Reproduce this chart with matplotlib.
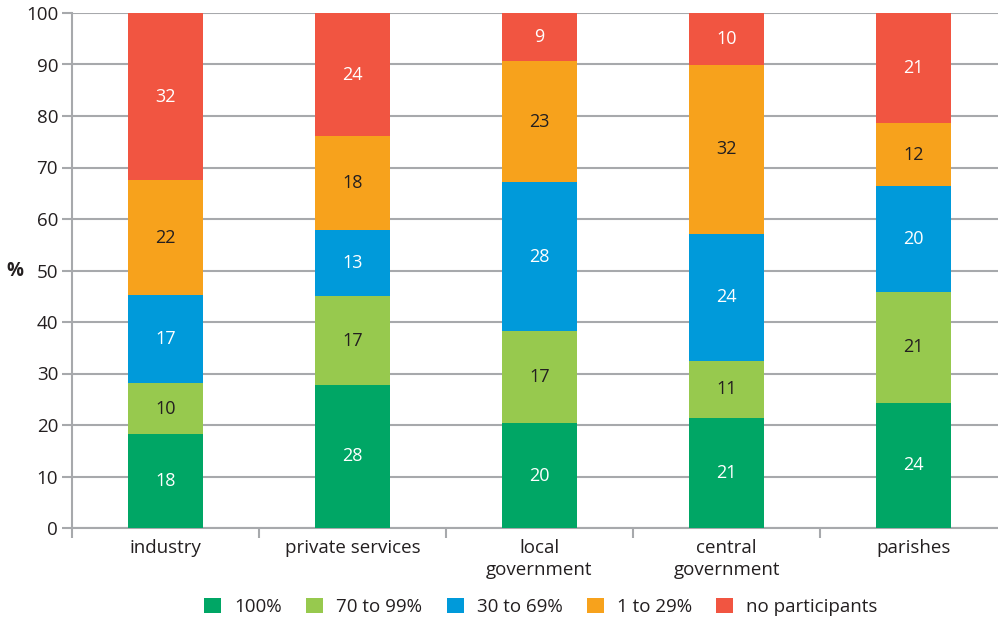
import numpy as np
import matplotlib
matplotlib.use("Agg")
import matplotlib.pyplot as plt
from matplotlib.patches import Patch

plt.rcParams['font.family'] = ['Open Sans', 'DejaVu Sans']

categories = ["industry", "private services", "local\ngovernment", "central\ngovernment", "parishes"]
series_names = ["100%", "70 to 99%", "30 to 69%", "1 to 29%", "no participants"]

# segment heights (labels are the printed, rounded numbers)
full = [18.2, 27.8, 20.3, 21.4, 24.3]
most = [10.0, 17.2, 18.0, 11.1, 21.5]
half = [17.1, 12.9, 28.8, 24.6, 20.6]
few = [22.2, 18.2, 23.6, 32.9, 12.2]
none_ = [32.5, 23.9, 9.3, 10.0, 21.4]

full_lbl = [18, 28, 20, 21, 24]
most_lbl = [10, 17, 17, 11, 21]
half_lbl = [17, 13, 28, 24, 20]
few_lbl = [22, 18, 23, 32, 12]
none_lbl = [32, 24, 9, 10, 21]

colors = ["#00A665", "#97C94E", "#009ADA", "#F7A21C", "#F15541"]
txt_colors = ["white", "#231F20", "white", "#231F20", "white"]

series = [full, most, half, few, none_]
labels = [full_lbl, most_lbl, half_lbl, few_lbl, none_lbl]

fs = 13.5

fig = plt.figure(figsize=(9.98, 6.2), dpi=100)
ax = fig.add_axes([72 / 998, 92 / 620, 926 / 998, 515 / 620])

x = np.arange(len(categories))
bottom = np.zeros(len(categories))
for vals, lbls, c, tc in zip(series, labels, colors, txt_colors):
    v = np.array(vals)
    ax.bar(x, v, 0.40, bottom=bottom, color=c, zorder=3)
    for xi, b, h, l in zip(x, bottom, v, lbls):
        ax.text(xi, b + h / 2, str(l), ha="center", va="center",
                color=tc, fontsize=fs - 0.5, zorder=4)
    bottom += v

ax.set_yticks(np.arange(0, 101, 10))
ax.yaxis.grid(True, color="#A7A9AC", linewidth=1.5, zorder=0)
ax.set_axisbelow(True)

ax.set_xticks(x)
ax.set_xticklabels(categories, fontsize=fs, color="#231F20", linespacing=1.25)
ax.set_xticks(np.arange(-0.5, len(categories), 1.0), minor=True)
ax.tick_params(axis="x", which="major", length=0, pad=8)
ax.tick_params(axis="x", which="minor", length=7, width=1.5, color="#A7A9AC")
ax.tick_params(axis="y", length=7, width=1.5, color="#A7A9AC",
               labelsize=fs, labelcolor="#231F20", pad=3)

ax.set_ylim(0, 100)
ax.set_xlim(-0.5, 926 / 187 - 0.5)

for s in ["top", "right"]:
    ax.spines[s].set_visible(False)
for s in ["left", "bottom"]:
    ax.spines[s].set_color("#A7A9AC")
    ax.spines[s].set_linewidth(1.5)

fig.text(15 / 998, 1 - 271 / 620, "%", fontsize=fs, fontweight="bold",
         color="#231F20", ha="center", va="center")

handles = [Patch(facecolor=c, edgecolor="none") for c in colors]
fig.legend(handles, series_names, loc="center", bbox_to_anchor=(541 / 998, 1 - 607 / 620),
           ncol=5, frameon=False, fontsize=fs, handlelength=0.9, handleheight=0.8,
           handletextpad=0.7, columnspacing=1.3, labelcolor="#231F20")

fig.savefig("out.png", dpi=100)
